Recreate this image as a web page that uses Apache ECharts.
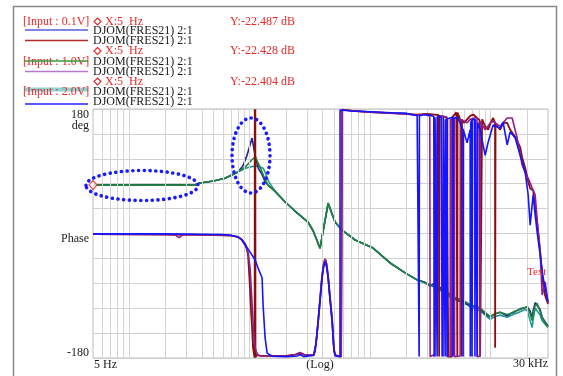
<!DOCTYPE html>
<html><head><meta charset="utf-8">
<script src="https://cdn.jsdelivr.net/npm/echarts/dist/echarts.min.js"></script>
<style>html,body{margin:0;padding:0;background:#fff}#c{width:563px;height:376px}</style>
</head><body><div id="c"></div>
<script>
// ---------- axes ----------
const freqMin = 5, freqMax = 30000;
const phaseMin = -180, phaseMax = 180, phaseStep = 36;
const gridFreqs = [6,7,8,9,10,20,30,40,50,60,70,80,90,100,200,300,400,500,600,700,800,900,
  1000,2000,3000,4000,5000,6000,7000,8000,9000,10000,20000];
const xTickLabels = ['5 Hz', '(Log)', '30 kHz'];
const yTickLabels = ['180', 'deg', 'Phase', '-180'];

// ---------- legend text ----------
const inputLabels = ['[Input : 0.1V]', '[Input : 1.0V]', '[Input : 2.0V]'];
const cursorXLabels = ['X:5  Hz', 'X:5  Hz', 'X:5  Hz'];
const cursorYLabels = ['Y:-22.487 dB', 'Y:-22.428 dB', 'Y:-22.404 dB'];
const traceLabel = 'DJOM(FRES21) 2:1';
const cursorPoint = [[5, 70]];

// ---------- series: [frequency Hz, phase deg] ----------
const traceA_01 = [[5,70],[10,70],[20,70.5],[35,70],[38.7,73],[50,76],[62.4,80],[80,89],[88,98],[95,113],[100,126],[104.6,138],[107,128],[110.9,113],[117.4,95],[126.8,85],[134.3,75],[142,70],[160,62],[197,45.5],[238,32.5],[305,16.6],[336,4],[384,-21],[448,44],[512,16.6],[585,5],[751,-9.4],[1059,-21],[1466,-42.6],[2000,-58],[2457,-67],[2800,-70],[3150,-76],[3401,-72],[3602,-86],[3800,-78],[3963,-80],[4197,-92],[4444,-86],[4891,-93],[5300,-96],[5800,-99],[6390,-102],[6770,-104],[7740,-106],[8195,-109],[9020,-116],[9924,-121],[10920,-116],[12017,-114],[13740,-119],[14550,-116],[16010,-113],[17615,-109],[19380,-107],[20140,-106],[21330,-112],[22160,-122],[22590,-112],[23470,-100],[24380,-98],[25820,-110],[26830,-121],[28410,-128],[30000,-134]];
const traceA_10 = [[5,70],[10,70],[20,70],[35,70],[38.7,73],[50,76],[62.4,80],[80,89],[91.6,96],[100,103],[105,107],[110.9,110.6],[114,107],[117.4,102],[126.8,89],[134.3,78],[142,70],[160,62],[197,45.5],[238,32.5],[305,16.6],[336,4],[384,-21],[448,44],[512,16.6],[585,5],[751,-9.4],[1059,-21],[1466,-42.6],[2000,-58],[2457,-67],[2800,-71],[3150,-75],[3602,-79],[3963,-83],[4197,-86],[4600,-89],[4891,-92],[5592,-95],[6390,-100],[6770,-103],[7740,-106],[8195,-108],[9020,-114],[9924,-120],[10920,-116],[12017,-114],[13740,-117],[14550,-116],[16010,-112],[17615,-110],[19380,-107],[20140,-106],[21330,-116],[22160,-126],[22590,-116],[23470,-104],[24380,-101],[25820,-113],[26830,-122],[28410,-130],[30000,-135]];
const traceA_20 = [[5,70],[10,70],[20,70],[35,70],[38.7,73],[50,76],[62.4,80],[80,89],[91.6,94],[100,96],[110.9,97.6],[120,97],[130,94],[136,86],[144,75],[160,63],[197,45.5],[238,32.5],[305,16.6],[336,4],[384,-22],[448,43],[512,16],[585,5],[751,-9.4],[1059,-21],[1466,-42.6],[2000,-58],[2457,-67],[2800,-70],[3150,-74],[3602,-78],[3963,-84],[4197,-88],[4600,-92],[4891,-95],[5592,-98],[6390,-103],[6770,-106],[7740,-110],[8195,-112],[9020,-118],[9924,-124],[10920,-120],[12017,-118],[13740,-121],[14550,-119],[16010,-116],[17615,-113],[19380,-110],[20140,-111],[21330,-126],[22160,-136],[22590,-124],[23470,-108],[24380,-106],[25820,-118],[26830,-126],[28410,-131],[30000,-136]];

const traceB_01 = [[5,-1],[20,-1.5],[40,-2],[60,-2.5],[70,-3],[80,-5],[86,-9],[91.6,-15],[95,-22],[97,-32],[100,-70],[102.5,-110],[104.6,-135],[106.6,-165],[109,-176],[110,-179.5],[110.2,179.5],[110.5,-179.5],[110.8,179.5],[111.1,-179.5],[111.4,179.5],[111.7,-179],[114,-176],[125,-177],[154,-177],[200,-177],[240,-175],[262,-173],[290,-176],[340,-176],[355,-160],[370,-128],[385,-93],[399,-62],[412,-44],[423,-37],[435,-44],[448,-62],[465,-93],[484,-125],[495,-153],[502,-168],[515,-176],[575,-178],[585,-179.5],[586,179],[700,177.5],[1000,175.5],[1500,174],[1953,173],[2457,172],[3000,173],[3720,171],[3742,-178],[3760,-176],[3780,170],[4300,168],[4444,166],[4460,-178],[4600,-177],[4780,-178],[4799,168],[5200,175],[5280,176],[5300,-178],[5320,175],[5592,165],[5740,160],[5760,-178],[5790,165],[6000,160],[6390,165],[6770,170],[7200,172],[8100,164],[8195,-178],[8300,-177],[8490,-178],[8510,165],[9020,155],[9553,150],[10000,160],[10510,167],[10900,160],[10920,-165],[10960,-163],[11000,158],[12017,150],[12720,160],[13740,160],[14550,150],[16010,140],[17615,125],[18300,110],[19380,95],[20530,75],[21330,65],[22590,62],[23470,60],[24380,15],[25820,-25],[26830,-60],[27350,-75],[28410,-90],[30000,-102]];
const traceB_10 = [[5,-1],[20,-1.5],[24,-2],[26,-6],[28,-1.5],[40,-2],[60,-2.5],[70,-3],[80,-5],[86,-9],[91.6,-17],[97,-28],[100.8,-50],[104.6,-100],[108,-145],[111,-165],[114,-172],[118,-176],[125,-177],[154,-177],[200,-177],[240,-175],[262,-172],[290,-176],[340,-176],[355,-160],[370,-127],[385,-92],[399,-62],[412,-44],[423,-37],[435,-44],[448,-62],[465,-93],[484,-126],[495,-154],[502,-169],[515,-176],[575,-178],[585,-179.5],[586,179],[700,177.5],[1000,175.5],[1500,174],[1953,173],[2457,171],[2800,172],[3130,170],[3150,-178],[3300,-176],[3450,-177],[3580,-178],[3600,168],[4000,170],[4350,168],[4370,-178],[4500,-176],[4620,-177],[4640,166],[4780,168],[4799,-178],[4820,166],[5010,167],[5030,-178],[5200,-176],[5592,-177],[5610,165],[6390,160],[6770,165],[7720,168],[7740,-178],[7800,-176],[8195,-177],[8210,162],[9020,150],[10000,160],[10510,162],[12017,155],[13740,167],[15120,167],[16630,138],[18300,99],[19380,88],[20530,80],[22160,66],[23470,56],[24380,20],[25820,-27],[26830,-89],[28410,-70],[30000,-100]];
const traceB_20 = [[5,-0.5],[20,-0.5],[40,-1],[60,-1.5],[70,-2.5],[80,-5],[86,-9],[91.6,-16],[100.8,-27],[110.9,-38],[117.4,-50],[126.8,-64],[129.2,-103],[134.3,-151],[139.6,-173],[154,-177.5],[200,-178],[250,-177],[262,-175],[280,-178],[340,-176],[349,-171],[360,-150],[370,-128],[385,-95],[399,-64],[412,-48],[423,-41],[435,-48],[448,-64],[465,-96],[484,-128],[495,-156],[502,-171],[515,-177],[532,-177.5],[562,-178],[563,178.5],[700,177],[1000,176],[1500,174.5],[1953,174],[2364,171],[2457,171],[2540,170],[2553,-178],[2566,170],[2800,172],[3150,171],[3380,169],[3401,-178],[3420,-120],[3440,-178],[3460,168],[3560,170],[3602,-178],[3640,170],[3900,168],[3963,-178],[3990,-85],[4030,-178],[4060,168],[4180,170],[4197,-178],[4220,165],[4350,166],[4370,-178],[4390,166],[4870,168],[4891,-178],[4920,166],[5300,168],[5592,160],[5900,150],[5920,-178],[5940,150],[6390,131],[6770,150],[6790,-178],[6820,-178],[6850,160],[7000,165],[7020,-178],[7060,-178],[7100,165],[7400,165],[7420,-178],[7450,-178],[7480,165],[7740,165],[7760,-178],[7800,-178],[7830,160],[8195,150],[9020,113],[9553,132],[10510,157],[12017,152],[12720,161],[13740,128],[14550,147],[16010,138],[17615,113],[19380,89],[20530,56],[21330,12],[22590,56],[23470,27],[24380,2],[25820,-31],[27350,-64],[30000,-99]];

const colorsA = ['#22228c', '#23853a', '#1f9898'];
const colorsB = ['#8b0d0d', '#8e1f8e', '#1414ff'];
const legendColors = ['#5a5ad6', '#b02a2a', '#3a9a3a', '#b878cc', '#8fd4d4', '#2020ff'];

const chart = echarts.init(document.getElementById('c'), null, {renderer: 'canvas'});
const SERIF = '"Liberation Serif","DejaVu Serif",serif';
const RED = '#e62a2a';

function trace(data, color, z, w) {
  return {type: 'line', data, symbol: 'none', showSymbol: false, clip: true, z,
    lineStyle: {color, width: w || 1.6}, itemStyle: {color}, emphasis: {disabled: true}, silent: true};
}

const G = [];
function txt(x, y, s, fill, align, size) {
  G.push({type: 'text', x, y, silent: true, z: 100,
    style: {text: s, font: (size || 12) + 'px ' + SERIF, fill,
      textAlign: align || 'left', align: align || 'left', textVerticalAlign: 'middle', verticalAlign: 'middle'}});
}
function seg(x1, y1, x2, y2, stroke, w, z) {
  G.push({type: 'line', silent: true, z: z || 99, shape: {x1, y1, x2, y2}, style: {stroke, lineWidth: w || 1.5}});
}
function diamond(cx, cy, r, z) {
  G.push({type: 'polygon', silent: true, z: z || 100, shape: {points: [[cx, cy - r], [cx + r, cy], [cx, cy + r], [cx - r, cy]]},
    style: {fill: '#fff', stroke: RED, lineWidth: 1.2}});
}
// outer frame
G.push({type: 'rect', silent: true, z: 90, shape: {x: 13.5, y: 6.5, width: 543, height: 400}, style: {fill: 'none', stroke: '#8a8a8a', lineWidth: 1.5}});
// legend block
const rowY = [21.5, 31, 40.5, 51, 61.5, 71.5, 81.5, 91.5, 101.5];
seg(25, 89.5, 88, 89.5, legendColors[4], 4, 98);
txt(23, rowY[0], inputLabels[0], RED);
txt(23, rowY[4], inputLabels[1], RED);
txt(23, rowY[7], inputLabels[2], RED);
seg(25, 30, 88, 30, legendColors[0]);
seg(25, 40.5, 88, 40.5, legendColors[1]);
seg(25, 61, 88, 61, legendColors[2], 1.5, 101);
seg(25, 71.5, 88, 71.5, legendColors[3]);
seg(25, 104, 88, 104, legendColors[5]);
[0, 3, 6].forEach((r, i) => {
  diamond(97.5, rowY[r], 3.5);
  txt(105, rowY[r], cursorXLabels[i], RED);
  txt(230, rowY[r], cursorYLabels[i], RED);
});
[1, 2, 4, 5, 7, 8].forEach(r => txt(93, rowY[r], traceLabel, '#1a1a1a'));
// axis labels
txt(89, 115, yTickLabels[0], '#1a1a1a', 'right');
txt(89, 126, yTickLabels[1], '#1a1a1a', 'right');
txt(89, 239, yTickLabels[2], '#1a1a1a', 'right');
txt(89, 353, yTickLabels[3], '#1a1a1a', 'right');
txt(94, 365, xTickLabels[0], '#1a1a1a', 'left');
txt(320, 365, xTickLabels[1], '#1a1a1a', 'center');
txt(548, 364, xTickLabels[2], '#1a1a1a', 'right');
txt(527, 272, 'Text', RED, 'left', 11);
// dotted annotation ellipses
G.push({type: 'ellipse', silent: true, z: 120, shape: {cx: 142, cy: 185.5, rx: 56, ry: 15},
  style: {fill: 'none', stroke: '#1a1aff', lineWidth: 3.6, lineDash: [0.1, 5.6], lineCap: 'round'}});
G.push({type: 'ellipse', silent: true, z: 120, shape: {cx: 251, cy: 155.5, rx: 19, ry: 37.5},
  style: {fill: 'none', stroke: '#1a1aff', lineWidth: 3.6, lineDash: [0.1, 5.6], lineCap: 'round'}});

chart.setOption({
  animation: false,
  backgroundColor: '#fff',
  grid: {left: 93, top: 109, width: 455, height: 249, show: true, borderColor: '#bdbdbd', borderWidth: 1, containLabel: false},
  xAxis: {type: 'log', logBase: 10, min: freqMin, max: freqMax,
    axisLine: {show: false}, axisTick: {show: false}, axisLabel: {show: false}, splitLine: {show: false}, minorSplitLine: {show: false}},
  yAxis: {type: 'value', min: phaseMin, max: phaseMax, interval: phaseStep,
    axisLine: {show: false}, axisTick: {show: false}, axisLabel: {show: false},
    splitLine: {show: true, lineStyle: {color: '#d0d0d0', width: 1}}},
  series: [
    {type: 'line', data: [], z: 1, silent: true,
      markLine: {silent: true, animation: false, symbol: ['none', 'none'], label: {show: false},
        lineStyle: {color: '#d4d4d4', width: 1, type: 'solid'}, emphasis: {disabled: true},
        data: gridFreqs.map(f => ({xAxis: f}))}},
    trace(traceA_20, colorsA[2], 2),
    trace(traceA_01, colorsA[0], 3),
    trace(traceA_10, colorsA[1], 4),
    trace(traceB_01, colorsB[0], 5, 1.8),
    trace(traceB_10, colorsB[1], 6),
    trace(traceB_20, colorsB[2], 7),
    {type: 'scatter', data: cursorPoint, symbol: 'diamond', symbolSize: [8, 9], z: 20, silent: true, clip: false,
      itemStyle: {color: '#fff', borderColor: RED, borderWidth: 1.3}}
  ],
  graphic: {elements: G}
});
</script></body></html>
